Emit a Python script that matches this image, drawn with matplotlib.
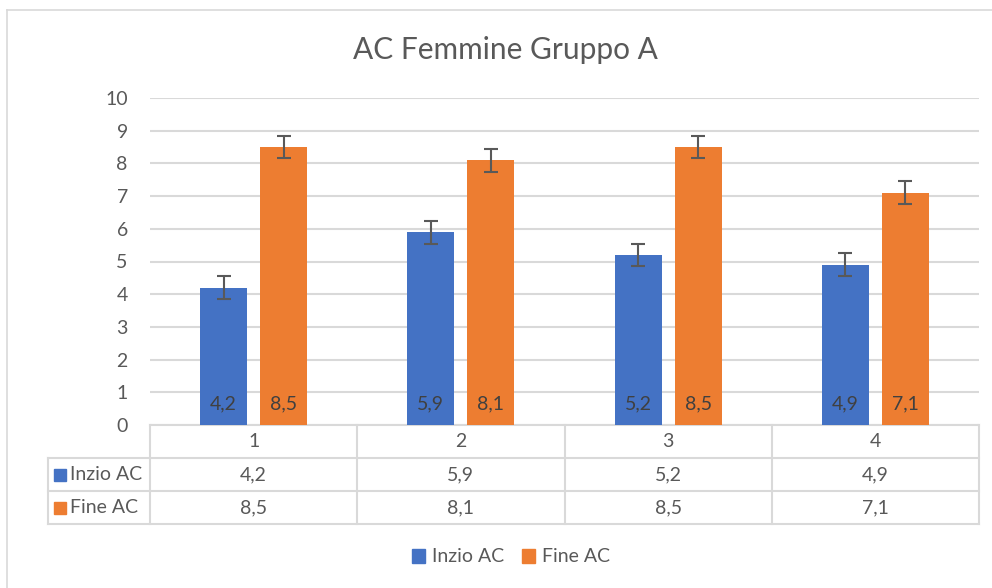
import matplotlib.pyplot as plt
import matplotlib.patches as mpatches
from matplotlib.lines import Line2D
import numpy as np

plt.rcParams['font.family'] = ['Lato', 'DejaVu Sans']

categories = ['1', '2', '3', '4']
inizio = [4.2, 5.9, 5.2, 4.9]
fine = [8.5, 8.1, 8.5, 7.1]
err_inizio = [0.35, 0.35, 0.35, 0.35]
err_fine = [0.35, 0.35, 0.35, 0.35]
series_names = ['Inzio AC', 'Fine AC']

BLUE = '#4472C4'
ORANGE = '#ED7D31'
TXT = '#595959'
GRID = '#D9D9D9'
W, H = 992, 588
FS = 14


def fmt(v):
    return str(v).replace('.', ',')


fig = plt.figure(figsize=(W / 100, H / 100), dpi=100)
# axes box in pixels: left 150, right 979, top 98, bottom 425
ax = fig.add_axes([150 / W, 1 - 425 / H, (979 - 150) / W, (425 - 98) / H])

x = np.arange(len(categories))
bw = 0.227
off = 0.145
ekw = dict(ecolor='#595959', elinewidth=1.5, capsize=5, capthick=1.5)
ax.bar(x - off, inizio, bw, color=BLUE, yerr=err_inizio, error_kw=ekw, zorder=3)
ax.bar(x + off, fine, bw, color=ORANGE, yerr=err_fine, error_kw=ekw, zorder=3)

for i in range(len(categories)):
    ax.text(x[i] - off, 0.65, fmt(inizio[i]), ha='center', va='center',
            fontsize=FS, color='#404040', zorder=4)
    ax.text(x[i] + off, 0.65, fmt(fine[i]), ha='center', va='center',
            fontsize=FS, color='#404040', zorder=4)

ax.set_xlim(-0.5, len(categories) - 0.5)
ax.set_ylim(0, 10)
ax.set_yticks(range(0, 11))
ax.set_xticks([])
ax.tick_params(axis='y', length=0, pad=16, labelsize=FS, labelcolor=TXT)
ax.grid(axis='y', color=GRID, linewidth=1.5, zorder=0)
for s in ax.spines.values():
    s.set_visible(False)

# data table below the plot
rh = 33 / (425 - 98)  # row height in axes fraction
left_ext = -(150 - 48) / (979 - 150)  # label column in axes fraction
tab = dict(color=GRID, linewidth=1.5, clip_on=False, transform=ax.transAxes, zorder=1)
n = len(categories)
for k in range(n + 1):
    ax.plot([k / n, k / n], [0, -3 * rh], **tab)
ax.plot([left_ext, left_ext], [-rh, -3 * rh], **tab)
ax.plot([0, 1], [0, 0], **tab)
for r in (1, 2, 3):
    ax.plot([left_ext, 1], [-r * rh, -r * rh], **tab)

for k in range(n):
    cx = (k + 0.5) / n
    ax.text(cx, -0.5 * rh, categories[k], transform=ax.transAxes,
            ha='center', va='center', fontsize=FS, color=TXT)
    ax.text(cx, -1.5 * rh, fmt(inizio[k]), transform=ax.transAxes,
            ha='center', va='center', fontsize=FS, color=TXT)
    ax.text(cx, -2.5 * rh, fmt(fine[k]), transform=ax.transAxes,
            ha='center', va='center', fontsize=FS, color=TXT)

for r, (name, col) in enumerate(zip(series_names, [BLUE, ORANGE])):
    yy = -(r + 1.5) * rh
    ax.plot([left_ext + 0.015], [yy], marker='s', markersize=8, color=col,
            transform=ax.transAxes, clip_on=False, linestyle='none')
    ax.text(left_ext + 0.027, yy, name, transform=ax.transAxes,
            ha='left', va='center', fontsize=FS, color=TXT)

fig.suptitle('AC Femmine Gruppo A', x=505 / W, y=1 - 50 / H, va='center',
             fontsize=21.5, color=TXT)

handles = [mpatches.Patch(color=BLUE), mpatches.Patch(color=ORANGE)]
fig.legend(handles, series_names, loc='center', bbox_to_anchor=(511 / W, 1 - 557 / H),
           ncol=2, frameon=False, fontsize=FS, labelcolor=TXT, handlelength=0.7,
           handleheight=0.7, handletextpad=0.35, columnspacing=0.9)

# outer chart frame (top and left edges visible)
fig.add_artist(Line2D([7 / W, 7 / W], [0, 1 - 10 / H], color='#D9D9D9', linewidth=1.2))
fig.add_artist(Line2D([7 / W, 1], [1 - 10 / H, 1 - 10 / H], color='#D9D9D9', linewidth=1.2))

fig.savefig('out.png', dpi=100, facecolor='white')
